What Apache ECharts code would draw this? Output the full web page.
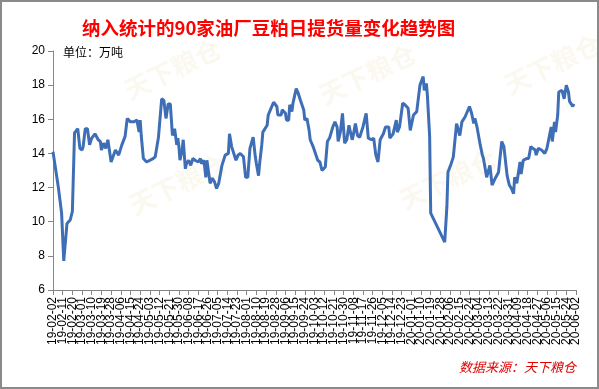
<!DOCTYPE html>
<html>
<head>
<meta charset="utf-8">
<script src="https://cdn.jsdelivr.net/npm/echarts@6/dist/echarts.min.js"></script>
<style>
html,body{margin:0;padding:0;background:#fff;}
#chart{width:599px;height:389px;}
</style>
</head>
<body>
<div id="chart"></div>
<script>
// Tick labels on the date axis (every 9 days from 19-02-02)
const tickLabels = ["19-02-02","19-02-11","19-02-20","19-03-01","19-03-10","19-03-19","19-03-28","19-04-06","19-04-15","19-04-24","19-05-03","19-05-12","19-05-21","19-05-30","19-06-08","19-06-17","19-06-26","19-07-05","19-07-14","19-07-23","19-08-01","19-08-10","19-08-19","19-08-28","19-09-06","19-09-15","19-09-24","19-10-03","19-10-12","19-10-21","19-10-30","19-11-08","19-11-17","19-11-26","19-12-05","19-12-14","19-12-23","20-01-01","20-01-10","20-01-19","20-01-28","20-02-06","20-02-15","20-02-24","20-03-04","20-03-13","20-03-22","20-03-31","20-04-09","20-04-18","20-04-27","20-05-06","20-05-15","20-05-24","20-06-02"];
const tickStepDays = 9;

// Days since 2019-02-02 for each observation
const daysFromStart = [0,5,8,10,13,16,18,20,23,25,27,28,30,32,34,36,39,42,44,45,47,49,51,54,58,61,64,67,69,72,75,76,78,80,81,82,84,87,93,95,98,101,103,105,107,109,111,113,114,115,116,117,118,120,121,123,124,126,128,130,132,133,135,137,138,140,141,142,143,145,146,148,149,150,152,154,157,160,163,164,166,167,170,172,174,175,177,179,181,183,186,188,189,191,192,194,195,199,200,202,203,205,208,209,212,213,216,217,219,220,222,223,226,228,230,233,234,236,238,239,242,246,248,250,253,255,257,260,262,264,265,267,269,271,273,275,278,279,281,283,285,287,288,291,293,296,298,300,302,304,307,309,312,313,316,317,319,320,322,325,327,330,332,333,335,338,339,341,344,345,347,348,350,351,364,366,367,370,372,375,378,380,383,387,389,391,392,394,397,399,400,403,406,408,411,414,415,417,419,422,424,426,428,429,431,434,435,437,440,442,444,446,448,449,451,454,457,459,462,463,464,466,467,469,470,473,475,477,479,480,483,484];
// Daily soymeal pick-up volume (10k tonnes)
const pickupVolume = [14.1,12.0,10.5,7.7,9.9,10.1,10.6,15.2,15.45,14.3,14.2,14.4,15.45,15.45,14.5,14.9,15.15,14.8,14.7,14.2,14.6,14.3,14.8,13.5,14.2,13.9,14.5,15.0,16.05,15.85,15.85,15.75,15.95,15.25,15.95,15.05,13.7,13.5,13.7,13.8,14.95,17.2,17.1,16.05,16.9,16.9,15.05,15.45,15.45,14.5,14.9,14.4,13.6,14.2,14.8,13.1,13.4,13.6,13.3,13.7,13.6,13.7,13.5,13.7,13.4,13.6,13.2,12.6,13.6,12.7,12.25,12.55,12.6,12.35,11.95,12.25,13.3,13.9,14.0,15.15,14.4,14.4,13.6,13.9,14.0,14.0,13.8,12.6,12.6,14.3,14.95,13.8,13.4,12.7,13.4,14.5,15.25,15.65,16.25,16.55,16.65,17.0,16.75,16.25,16.25,16.55,16.35,15.95,15.95,16.85,16.45,16.95,17.8,17.5,17.1,16.55,15.95,16.05,15.35,14.8,14.35,13.6,13.5,13.0,13.2,14.7,14.9,15.55,15.85,15.55,14.7,15.25,16.35,14.6,14.8,15.65,14.8,15.05,15.75,15.05,14.95,15.35,15.55,16.35,14.9,14.8,14.9,13.9,13.5,14.8,15.15,15.55,15.55,14.9,15.15,15.05,15.95,15.25,15.55,16.95,16.85,16.65,15.35,15.45,16.25,16.45,16.35,18.0,18.5,17.7,18.1,17.3,15.0,10.5,8.8,10.85,12.9,13.4,13.8,15.75,15.05,15.85,16.15,16.75,16.35,15.75,16.05,15.55,14.5,13.9,13.7,12.6,13.3,12.15,12.55,12.9,13.5,14.7,14.4,12.7,12.15,11.95,11.65,12.6,12.25,13.5,12.8,13.6,13.7,13.7,14.4,14.3,14.2,13.9,14.3,14.2,14.0,14.3,15.25,15.55,14.7,15.85,15.25,16.25,17.6,17.7,17.2,18.0,17.6,17.05,16.75,16.9];

const yMin = 6, yMax = 20, yStep = 2;

const seriesData = daysFromStart.map((d, i) => [d, pickupVolume[i]]);
const xMax = (tickLabels.length - 1) * tickStepDays;

const chart = echarts.init(document.getElementById('chart'), null, {renderer: 'canvas'});

const wmStyle = {text: '天下粮仓', fill: 'rgba(225,200,140,0.13)', font: 'bold 26px "Noto Sans CJK SC"'};
function wm(x, y) {
  return {type: 'text', x: x, y: y, rotation: Math.PI / 7, silent: true, z: 0, style: Object.assign({}, wmStyle)};
}

chart.setOption({
  animation: false,
  backgroundColor: '#ffffff',
  title: {
    text: '纳入统计的90家油厂豆粕日提货量变化趋势图',
    left: 77,
    top: 14,
    textStyle: {color: '#ff0000', fontSize: 18.5, fontWeight: 'bold', fontFamily: '"Noto Sans CJK SC"'}
  },
  grid: {left: 53, right: 23, top: 51, bottom: 99, containLabel: false},
  xAxis: [{
    type: 'category',
    data: tickLabels,
    boundaryGap: false,
    axisLine: {show: true, lineStyle: {color: '#868686', width: 1}},
    axisTick: {show: true, inside: false, length: 5, interval: 0, lineStyle: {color: '#868686'}},
    splitLine: {show: false},
    axisLabel: {
      interval: 0,
      rotate: 90,
      margin: 7,
      fontSize: 12,
      color: '#000',
      fontFamily: '"Liberation Sans"'
    }
  }, {
    type: 'value',
    min: 0,
    max: xMax,
    interval: tickStepDays,
    show: false
  }],
  yAxis: {
    type: 'value',
    min: yMin,
    max: yMax,
    interval: yStep,
    axisLine: {show: true, lineStyle: {color: '#868686', width: 1}},
    axisTick: {show: true, inside: false, length: 5, lineStyle: {color: '#868686'}},
    splitLine: {show: false},
    axisLabel: {fontSize: 12, color: '#000', margin: 8, fontFamily: '"Liberation Sans"'}
  },
  series: [{
    type: 'line',
    xAxisIndex: 1,
    data: seriesData,
    showSymbol: false,
    symbol: 'none',
    smooth: false,
    lineStyle: {color: '#3e6eb6', width: 3},
    z: 5
  }],
  graphic: [
    {type: 'rect', shape: {x: 1, y: 1, width: 597, height: 387}, style: {fill: 'none', stroke: '#8a8a8a', lineWidth: 2}, silent: true, z: 10},
    {type: 'text', left: 63, top: 46, style: {text: '单位：万吨', fill: '#000', font: '12px "Noto Sans CJK SC"'}, z: 10},
    {type: 'text', left: 459, top: 361, style: {text: '数据来源：天下粮仓', fill: '#e00000', font: 'italic 13px "Noto Sans CJK SC"'}, z: 10},
    wm(120, 80), wm(315, 85), wm(500, 75), wm(125, 195), wm(395, 190)
  ]
});
</script>
</body>
</html>
